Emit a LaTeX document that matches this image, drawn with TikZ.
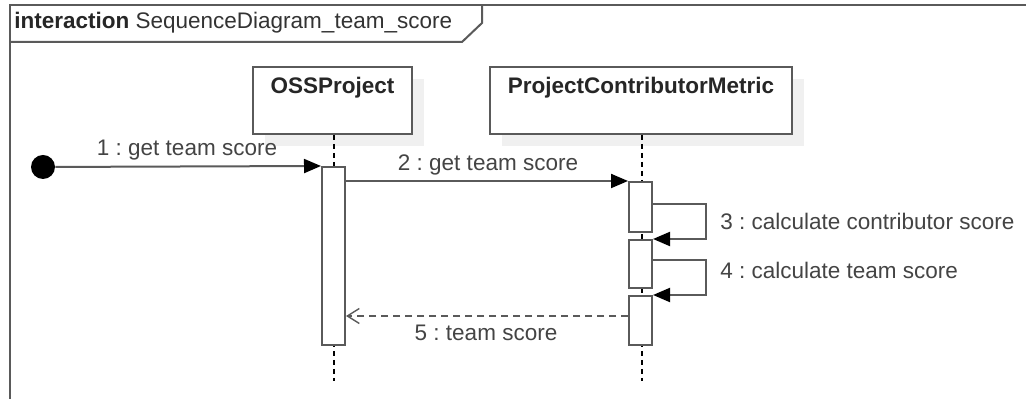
\documentclass[tikz,border=0pt]{standalone}
\usepackage{fontspec}
\setmainfont{Liberation Sans}
\usetikzlibrary{arrows.meta,calc}
\frenchspacing
\definecolor{linegray}{HTML}{5A5A5A}
\definecolor{textgray}{HTML}{444444}
\definecolor{shadowgray}{HTML}{F0F0F0}
\tikzset{
  lifebox/.style={draw=linegray, line width=1pt, fill=white, inner sep=0pt},
  actbox/.style={draw=linegray, line width=1pt, fill=white, minimum width=11.5pt, inner sep=0pt},
  lifeline/.style={draw=black, line width=0.8pt, dash pattern=on 2.5pt off 2pt},
  callmsg/.style={draw=linegray, line width=1pt, -{Triangle[length=8.5pt,width=7pt,color=black,fill=black]}},
  retmsg/.style={draw=linegray, line width=1pt, dash pattern=on 3.5pt off 2.5pt, -{Straight Barb[length=6pt,width=7.5pt,line width=0.7pt]}},
  msglabel/.style={text=textgray, font=\fontsize{11.25}{13}\selectfont, inner sep=0pt},
  headtext/.style={text=black!85, font=\fontsize{11.25}{13}\selectfont\bfseries, inner sep=0pt}
}
\begin{document}
\begin{tikzpicture}[x=0.5pt,y=-0.5pt]
\useasboundingbox (0,0) rectangle (1026,399);
\fill[white] (0,0) rectangle (1026,399);

% interaction frame and its name tab
\draw[linegray, line width=1.2pt] (10,399) -- (10,5) -- (1026,5);
\draw[linegray, line width=1pt] (10,42) -- (462,42) -- (482,23) -- (482,5);
\node[anchor=west, inner sep=0pt, font=\fontsize{11.25}{13}\selectfont] (title) at (14,23)
  {\textcolor{black!85}{\bfseries interaction} \textcolor{black!80}{SequenceDiagram\_team\_score}};

% lifeline heads with their drop shadows
\fill[shadowgray] (265,79) rectangle (424,146);
\fill[shadowgray] (502,79) rectangle (804,146);
\node[lifebox, minimum width=79.5pt, minimum height=33.5pt] (oss) at (332.5,100.5) {};
\node[lifebox, minimum width=151pt, minimum height=33.5pt] (pcm) at (641,100.5) {};
\node[headtext] (ossname) at (332.5,88) {OSSProject};
\node[headtext] (pcmname) at (641,88) {ProjectContributorMetric};

% lifelines
\coordinate (ossend) at (334,381);
\coordinate (pcmend) at (642,381);
\draw[lifeline] (oss.south -| ossend) -- (ossend);
\draw[lifeline] (pcm.south -| pcmend) -- (pcmend);

% activations
\node[actbox, minimum height=89pt] (actoss) at (333.5,256) {};
\node[actbox, minimum height=25pt] (act1) at (640.5,207) {};
\node[actbox, minimum height=24pt] (act2) at (640.5,264) {};
\node[actbox, minimum height=24.5pt] (act3) at (640.5,320.5) {};

% initial message from the found point
\node[circle, fill=black, minimum size=12pt, inner sep=0pt] (start) at (43,167) {};
\draw[callmsg] (start) -- (actoss.north west);
\node[msglabel] (l1) at (187,150) {1 : get team score};

% call to ProjectContributorMetric
\draw[callmsg] (actoss.east |- act1.north) -- (act1.north west);
\node[msglabel] (l2) at (488,165) {2 : get team score};

% self calls
\draw[callmsg] ([yshift=-11.5pt]act1.north east) -- ++(53,0) |- (act2.north east);
\node[msglabel, anchor=west] (l3) at (720,221) {3 : calculate contributor score};
\draw[callmsg] ([yshift=-10.5pt]act2.north east) -- ++(53,0) |- (act3.north east);
\node[msglabel, anchor=west] (l4) at (720,270) {4 : calculate team score};

% reply
\draw[retmsg] ([yshift=-10.5pt]act3.north west) -- ([yshift=-10.5pt]act3.north west -| actoss.east);
\node[msglabel] (l5) at (486,333) {5 : team score};
\end{tikzpicture}
\end{document}
